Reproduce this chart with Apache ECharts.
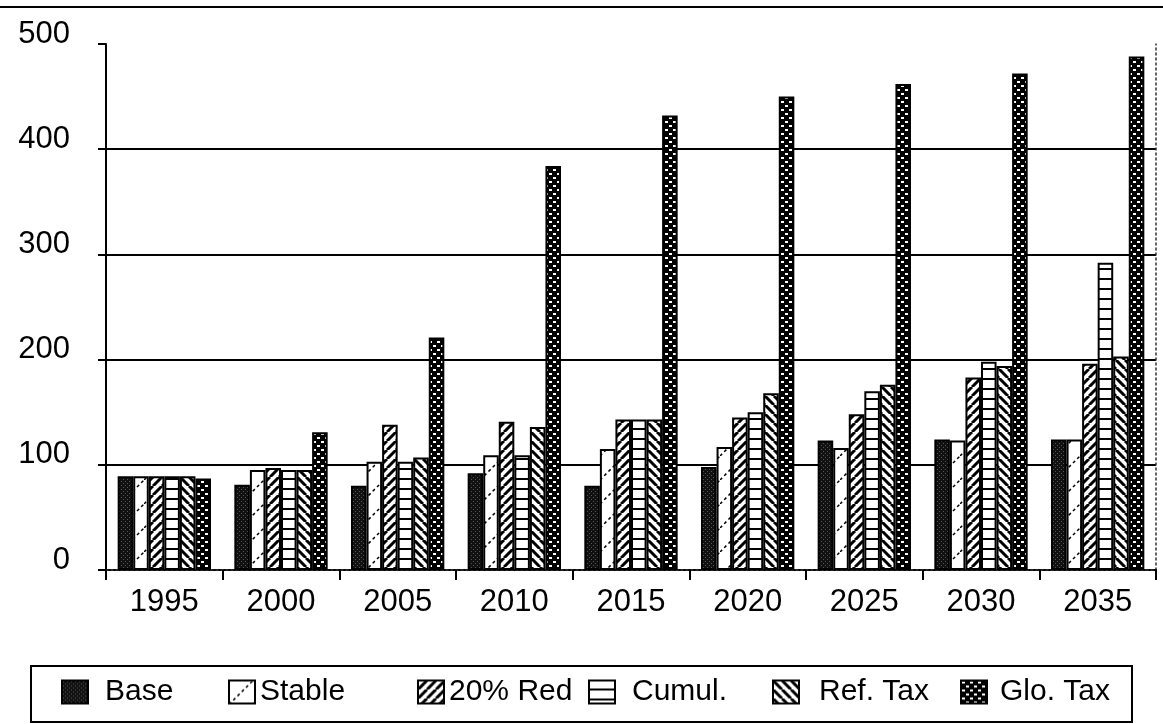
<!DOCTYPE html>
<html>
<head>
<meta charset="utf-8">
<script src="https://cdn.jsdelivr.net/npm/echarts@6/dist/echarts.min.js"></script>
<style>
  html, body { margin: 0; padding: 0; background: #fff; }
  #chart { width: 1163px; height: 724px; }
</style>
</head>
<body>
<div id="chart"></div>
<script>
// 数据
const years = ['1995', '2000', '2005', '2010', '2015', '2020', '2025', '2030', '2035'];
const seriesNames = ['Base', 'Stable', '20% Red', 'Cumul.', 'Ref. Tax', 'Glo. Tax'];
const base   = [89, 81, 80, 92, 80, 98, 123, 124, 124];
const stable = [89, 95, 103, 109, 115, 117, 116, 123, 124];
const red20  = [89, 97, 138, 141, 143, 145, 148, 183, 196];
const cumul  = [89, 95, 103, 109, 143, 150, 170, 198, 292];
const refTax = [89, 95, 107, 136, 143, 168, 176, 194, 203];
const gloTax = [87, 131, 221, 384, 432, 450, 462, 472, 488];
const yTicks = [0, 500, 100]; // min, max, interval

const FONT = '"Liberation Sans", Arial, sans-serif';

// 填充图案
function makePattern(w, h, draw) {
    const c = document.createElement('canvas');
    c.width = w;
    c.height = h;
    const ctx = c.getContext('2d');
    draw(ctx, w, h);
    return { image: c, repeat: 'repeat' };
}

const patterns = [
    // Base: 深色点状
    makePattern(4, 4, (ctx) => {
        ctx.fillStyle = '#111';
        ctx.fillRect(0, 0, 4, 4);
        ctx.fillStyle = '#555';
        ctx.fillRect(1, 1, 1, 1);
        ctx.fillRect(3, 3, 1, 1);
    }),
    // Stable: 虚线斜纹
    makePattern(24, 24, (ctx) => {
        ctx.fillStyle = '#fff';
        ctx.fillRect(0, 0, 24, 24);
        ctx.strokeStyle = '#000';
        ctx.lineWidth = 1.5;
        ctx.setLineDash([3, 3]);
        ctx.beginPath();
        ctx.moveTo(0, 24);
        ctx.lineTo(24, 0);
        ctx.stroke();
    }),
    // 20% Red: 粗斜纹 /
    makePattern(9, 9, (ctx) => {
        ctx.fillStyle = '#fff';
        ctx.fillRect(0, 0, 9, 9);
        ctx.strokeStyle = '#000';
        ctx.lineWidth = 3;
        ctx.beginPath();
        [-9, 0, 9].forEach(o => {
            ctx.moveTo(o, 9);
            ctx.lineTo(o + 9, 0);
        });
        ctx.stroke();
    }),
    // Cumul.: 横线
    makePattern(4, 10, (ctx) => {
        ctx.fillStyle = '#fff';
        ctx.fillRect(0, 0, 4, 10);
        ctx.fillStyle = '#000';
        ctx.fillRect(0, 8, 4, 2);
    }),
    // Ref. Tax: 粗斜纹 \
    makePattern(9, 9, (ctx) => {
        ctx.fillStyle = '#fff';
        ctx.fillRect(0, 0, 9, 9);
        ctx.strokeStyle = '#000';
        ctx.lineWidth = 3;
        ctx.beginPath();
        [-9, 0, 9].forEach(o => {
            ctx.moveTo(o, 0);
            ctx.lineTo(o + 9, 9);
        });
        ctx.stroke();
    }),
    // Glo. Tax: 黑底白色砖纹
    makePattern(8, 8, (ctx) => {
        ctx.fillStyle = '#000';
        ctx.fillRect(0, 0, 8, 8);
        ctx.fillStyle = '#fff';
        ctx.fillRect(1, 1, 3, 2);
        ctx.fillRect(5, 5, 3, 2);
    })
];

const values = [base, stable, red20, cumul, refTax, gloTax];

const series = seriesNames.map((name, i) => ({
    name: name,
    type: 'bar',
    data: values[i],
    barGap: 0,
    barCategoryGap: '20%',
    itemStyle: {
        color: patterns[i],
        borderColor: '#000',
        borderWidth: 2
    }
}));

// 图例位置（各自独立）
const legendLeft = [61, 228, 417, 588, 772, 960];
const legendTextPad = [12, 0, 0, 12, 15, 8];
const legends = seriesNames.map((name, i) => ({
    data: [name],
    left: legendLeft[i],
    top: 677,
    padding: 0,
    icon: 'rect',
    itemWidth: 26,
    itemHeight: 23,
    selectedMode: false,
    textStyle: {
        fontFamily: FONT,
        fontSize: 30,
        color: '#000',
        padding: [0, 0, 0, legendTextPad[i]]
    }
}));

const chart = echarts.init(document.getElementById('chart'));

const option = {
    animation: false,
    backgroundColor: '#fff',
    grid: { left: 106, right: 7, top: 44, bottom: 154, containLabel: false },
    legend: legends,
    xAxis: [
        {
            type: 'category',
            data: years,
            axisLine: { show: true, lineStyle: { color: '#000', width: 2 } },
            axisTick: { show: true, length: 10, lineStyle: { color: '#000', width: 2 } },
            axisLabel: { fontFamily: FONT, fontSize: 31, color: '#000', margin: 17 },
            splitLine: { show: false }
        },
        {
            type: 'category',
            data: years,
            position: 'top',
            axisLine: { show: true, lineStyle: { color: '#333', width: 1.5, type: [2, 3] } },
            axisTick: { show: false },
            axisLabel: { show: false }
        }
    ],
    yAxis: [
        {
            type: 'value',
            min: yTicks[0],
            max: yTicks[1],
            interval: yTicks[2],
            axisLine: { show: true, lineStyle: { color: '#000', width: 2 } },
            axisTick: { show: true, length: 8, lineStyle: { color: '#000', width: 2 } },
            axisLabel: {
                fontFamily: FONT, fontSize: 31, color: '#000', margin: 36,
                verticalAlign: 'bottom', lineHeight: 20
            },
            splitLine: {
                show: true,
                showMaxLine: false,
                lineStyle: { color: '#000', width: 2 }
            }
        },
        {
            type: 'value',
            min: yTicks[0],
            max: yTicks[1],
            interval: yTicks[2],
            position: 'right',
            axisLine: { show: true, lineStyle: { color: '#333', width: 1.5, type: [2, 3] } },
            axisTick: { show: false },
            axisLabel: { show: false },
            splitLine: { show: false }
        }
    ],
    graphic: [
        {
            type: 'line',
            shape: { x1: 0, y1: 7, x2: 1163, y2: 7 },
            style: { stroke: '#000', lineWidth: 2 }
        },
        {
            type: 'rect',
            shape: { x: 31, y: 666, width: 1101, height: 56 },
            style: { fill: 'none', stroke: '#000', lineWidth: 2 }
        }
    ],
    series: series
};

chart.setOption(option);

window.addEventListener('resize', function () {
    chart.resize();
});
</script>
</body>
</html>
